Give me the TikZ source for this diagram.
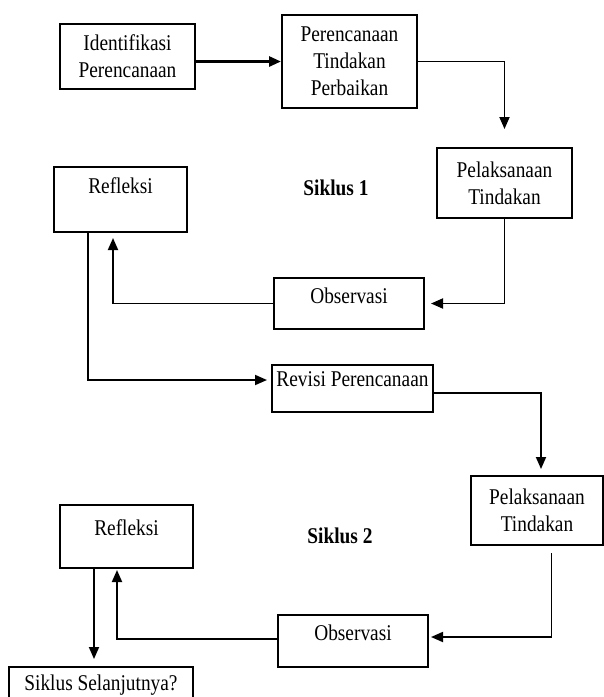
\documentclass[tikz,border=0pt]{standalone}
\usepackage{fontspec}
\setmainfont{Liberation Serif}[FakeStretch=0.86]
\usetikzlibrary{arrows.meta}

\begin{document}
\begin{tikzpicture}
[x=1pt,y=-1pt,
  boxDecorate/.style={draw,line width=2pt,align=center,inner sep=2pt},
  raised/.style={text height=15pt,text depth=#1},
  lineDecorate/.style={line width=1.8pt,-{Triangle[length=12pt,width=10pt]}}]
\fontsize{22.5}{27}\selectfont
\useasboundingbox (0,0) rectangle (604,697);
%% boxes
\node (ident) at (127.5,56.5) [boxDecorate,minimum width=135pt,minimum height=65pt] {Identifikasi\\Perencanaan};
\node (renc) at (349.5,61.5) [boxDecorate,minimum width=135pt,minimum height=93pt] {Perencanaan\\Tindakan\\Perbaikan};
\node (pel1) at (504.5,183) [boxDecorate,minimum width=135pt,minimum height=70pt] {Pelaksanaan\\Tindakan};
\node (ref1) at (120.5,199.5) [boxDecorate,raised=28pt,minimum width=133pt,minimum height=65pt] {Refleksi};
\node (obs1) at (349,303.5) [boxDecorate,raised=16pt,minimum width=150pt,minimum height=51pt] {Observasi};
\node (revisi) at (352.5,388.5) [boxDecorate,raised=20pt,minimum width=161pt,minimum height=47pt] {Revisi Perencanaan};
\node (pel2) at (537,510.5) [boxDecorate,minimum width=132pt,minimum height=69pt] {Pelaksanaan\\Tindakan};
\node (ref2) at (126.5,536.5) [boxDecorate,raised=18pt,minimum width=133pt,minimum height=63pt] {Refleksi};
\node (obs2) at (353,641) [boxDecorate,raised=17pt,minimum width=150pt,minimum height=52pt] {Observasi};
\node (selanjut) at (101,690) [boxDecorate,raised=15pt,minimum width=184pt,minimum height=46pt] {Siklus Selanjutnya?};
%% cycle labels
\node (siklusA) at (336,188) {\bfseries Siklus 1};
\node (siklusB) at (340,536) {\bfseries Siklus 2};
%% connectors
\draw[lineDecorate,line width=2.8pt] (ident.east |- renc.west) -- (renc.west);
\draw[lineDecorate,shorten >=18pt] (renc.east) -| (pel1.north);
\draw[lineDecorate,shorten >=6pt] (pel1.south) |- (obs1.east);
\draw[lineDecorate,shorten >=5pt] (obs1.west) -| ([xshift=-7.5pt]ref1.south);
\draw[lineDecorate,shorten >=4pt] ([xshift=-32.5pt]ref1.south) |- ([yshift=8.5pt]revisi.west);
\draw[lineDecorate,shorten >=6pt] ([yshift=-4.5pt]revisi.east) -| ([xshift=4pt]pel2.north);
\draw[lineDecorate,shorten <=7pt,shorten >=2pt] ([xshift=14.5pt]pel2.south) |- ([yshift=4pt]obs2.east);
\draw[lineDecorate,shorten >=1pt] ([yshift=2pt]obs2.west) -| ([xshift=-9.5pt]ref2.south);
\draw[lineDecorate,shorten >=7pt] ([xshift=-32.5pt]ref2.south) -- ([xshift=-32.5pt]ref2.south |- selanjut.north);
\end{tikzpicture}
\end{document}
